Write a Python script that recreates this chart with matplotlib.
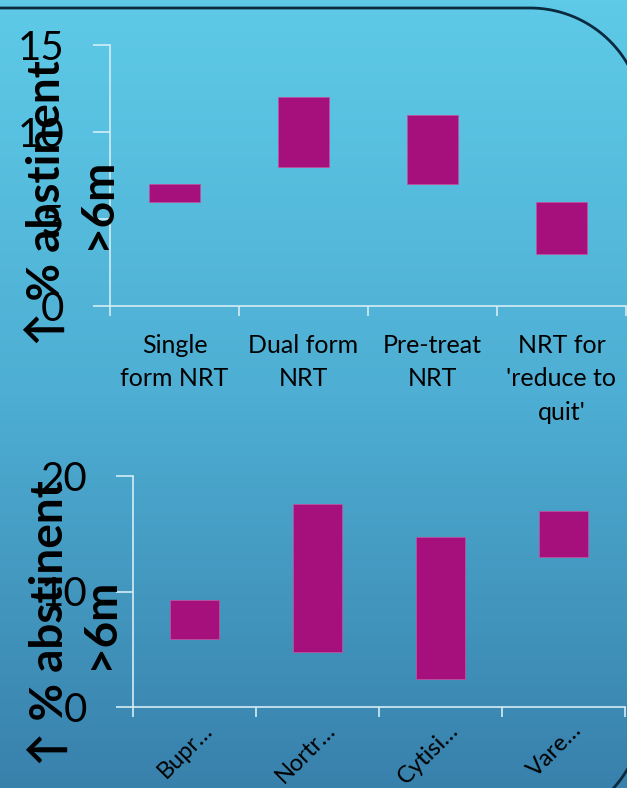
import numpy as np
import matplotlib
matplotlib.use("Agg")
import matplotlib.pyplot as plt
from matplotlib.colors import LinearSegmentedColormap
import matplotlib.transforms as mtransforms

# --- DATA ---
nrt_labels = ["Single\nform NRT", "Dual form\nNRT", "Pre-treat\nNRT", "NRT for\n'reduce to\nquit'"]
nrt_low = [6, 8, 7, 3]
nrt_high = [7, 12, 11, 6]
nrt_yticks = [0, 5, 10, 15]

drug_labels = ["Bupr…", "Nortr…", "Cytisi…", "Vare…"]
drug_low = [5.9, 4.8, 2.4, 13.0]
drug_high = [9.3, 17.6, 14.7, 17.0]
drug_yticks = [0, 10, 20]

ylabel_text = "\u2191 % abstinent\n>6m"

BAR_COLOR = "#A5107C"
AXIS_COLOR = "#d4edf5"
W, H = 627, 788

plt.rcParams['font.family'] = ['Lato', 'DejaVu Sans']

fig = plt.figure(figsize=(W / 100, H / 100), dpi=100)

# background gradient + rounded frame (pixel units, y down)
bg = fig.add_axes([0, 0, 1, 1], zorder=0)
grad = LinearSegmentedColormap.from_list("bg", ["#5ECAE7", "#4EAED3", "#3881AC"])
bg.imshow(np.linspace(0, 1, 256).reshape(-1, 1), cmap=grad, aspect="auto",
          extent=[0, W, H, 0])
r = 113
cx, top_y, bot_y = 530, 8, 825
a1 = np.linspace(np.pi / 2, 0, 60)
a2 = np.linspace(0, -np.pi / 2, 60)
fx = np.concatenate([[-10], cx + r * np.cos(a1), cx + r * np.cos(a2), [-10]])
fy = np.concatenate([[top_y], (top_y + r) - r * np.sin(a1), (bot_y - r) - r * np.sin(a2), [bot_y]])
bg.plot(fx, fy, color="#0b2a40", lw=2)
bg.set_xlim(0, W)
bg.set_ylim(H, 0)
bg.axis("off")


def px_axes(left, top, right, bottom):
    return fig.add_axes([left / W, 1 - bottom / H, (right - left) / W, (bottom - top) / H], zorder=2)


def style_axes(ax, yticks, ylim):
    ax.set_facecolor("none")
    for s in ["top", "right"]:
        ax.spines[s].set_visible(False)
    for s in ["left", "bottom"]:
        ax.spines[s].set_color(AXIS_COLOR)
        ax.spines[s].set_linewidth(1.2)
    ax.set_ylim(*ylim)
    ax.set_yticks(yticks)
    ax.set_xlim(-0.5, 3.5)
    ax.set_xticks(np.arange(4))
    ax.set_xticks(np.arange(-0.5, 4, 1), minor=True)
    ax.tick_params(axis="y", length=12, width=1.2, color=AXIS_COLOR, pad=21,
                   labelsize=29, labelcolor="black")
    ax.tick_params(axis="x", which="major", length=0, pad=20)
    ax.tick_params(axis="x", which="minor", length=7, width=1.2, color=AXIS_COLOR)


# top chart: NRT
ax1 = px_axes(110, 45, 626, 306)
ax1.bar(np.arange(4), np.array(nrt_high) - np.array(nrt_low), bottom=nrt_low, width=0.4,
        color=BAR_COLOR, edgecolor="#c0509c", linewidth=0.6)
style_axes(ax1, nrt_yticks, (0, 15))
ax1.set_xticklabels(nrt_labels, fontsize=18, linespacing=1.55)
for t in ax1.get_xticklabels():
    t.set_multialignment("center")

# bottom chart: drugs
ax2 = px_axes(133, 476, 625, 707)
ax2.bar(np.arange(4), np.array(drug_high) - np.array(drug_low), bottom=drug_low, width=0.4,
        color=BAR_COLOR, edgecolor="#c0509c", linewidth=0.6)
style_axes(ax2, drug_yticks, (0, 20))
ax2.tick_params(axis="x", which="major", pad=9)
ax2.set_xticklabels(drug_labels, fontsize=17, rotation=45, ha="right", va="top",
                    rotation_mode="default")
shift = mtransforms.ScaledTranslation(22 / 100, 0, fig.dpi_scale_trans)
for t in ax2.get_xticklabels():
    t.set_transform(t.get_transform() + shift)

# rotated y labels drawn on top of everything
for lx, ly in [(72, 203), (75, 623)]:
    fig.text(lx / W, 1 - ly / H, ylabel_text, rotation=90, ha="center", va="center",
             multialignment="center", fontsize=33, fontweight="bold", linespacing=1.25,
             color="black", zorder=10)

fig.savefig("out.png", dpi=100)
